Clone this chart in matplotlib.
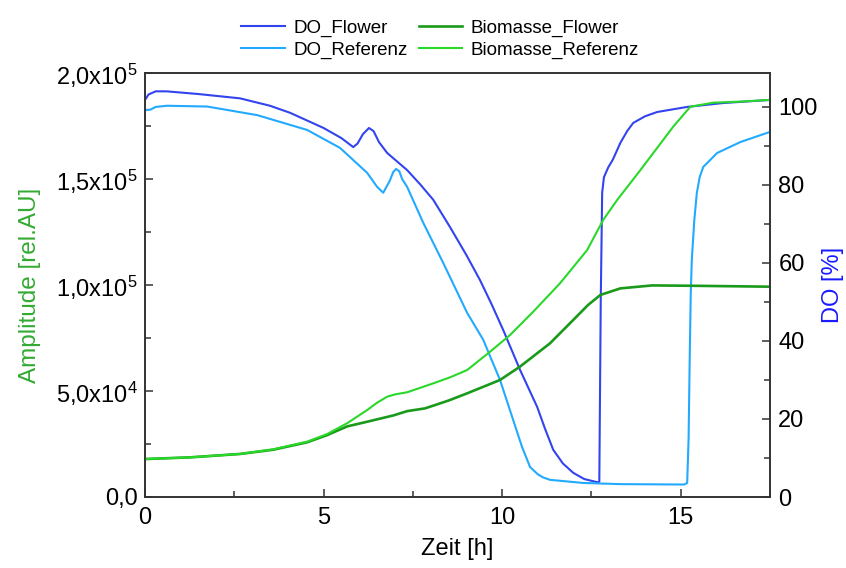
import matplotlib
matplotlib.use("Agg")
import matplotlib.pyplot as plt
from matplotlib.ticker import MultipleLocator, FuncFormatter

plt.rcParams["font.family"] = ["Liberation Sans", "DejaVu Sans"]
plt.rcParams["mathtext.fontset"] = "custom"
plt.rcParams["mathtext.rm"] = "Liberation Sans"
plt.rcParams["mathtext.it"] = "Liberation Sans"

# DO curves (right axis, %)
t_do_flower = [0.0, 0.1, 0.3, 0.6, 1.5, 2.66, 3.5, 4.06, 5.0, 5.5, 5.83, 5.95, 6.1,
               6.27, 6.4, 6.55, 6.78, 7.34, 7.7, 8.07, 8.54, 9.0, 9.38, 9.7, 10.03,
               10.5, 10.98, 11.2, 11.43, 11.7, 11.99, 12.3, 12.66, 12.72, 12.76,
               12.8, 12.85, 12.97, 13.1, 13.31, 13.5, 13.67, 14.0, 14.34, 15.18,
               16.19, 17.5]
do_flower = [101.8, 103.2, 104.0, 104.0, 103.3, 102.2, 100.3, 98.5, 94.6, 92.0, 89.7,
             90.6, 93.0, 94.6, 93.8, 91.0, 88.2, 83.8, 80.2, 76.2, 69.2, 62.0, 55.6,
             49.5, 42.8, 32.6, 23.1, 17.5, 12.1, 8.6, 6.2, 4.6, 3.8, 3.9, 50.0,
             78.0, 82.0, 84.5, 86.5, 90.8, 93.8, 95.9, 97.6, 98.7, 100.0,
             101.0, 101.8]

t_do_ref = [0.0, 0.15, 0.3, 0.62, 1.74, 3.14, 4.54, 5.46, 6.22, 6.5, 6.67, 6.85, 6.95,
            7.03, 7.12, 7.2, 7.34, 7.79, 8.35, 9.02, 9.47, 9.94, 10.31, 10.55, 10.78,
            11.0, 11.15, 11.34, 12.27, 13.31, 15.1, 15.18, 15.22, 15.25, 15.28, 15.31,
            15.38, 15.45, 15.53, 15.63, 16.02, 16.67, 17.5]
do_ref = [99.2, 99.3, 100.0, 100.3, 100.1, 97.9, 94.1, 89.5, 83.1, 79.5, 78.0, 81.0,
          83.3, 84.1, 83.5, 81.5, 79.5, 70.3, 60.0, 47.2, 40.3, 30.0, 19.7, 13.0, 7.7,
          5.8, 5.0, 4.4, 3.6, 3.3, 3.2, 3.6, 15.0, 35.0, 52.0, 60.8,
          71.0, 77.9, 82.0, 84.6, 88.2, 91.0, 93.6]

# Biomass curves (left axis, amplitude)
t_bio_flower = [0.0, 1.26, 2.66, 3.59, 4.54, 5.10, 5.66, 6.22, 6.96, 7.34, 7.84,
                8.5, 9.02, 9.94, 10.5, 11.34, 11.99, 12.4, 12.75, 13.31, 14.2,
                15.5, 17.5]
bio_flower = [17900, 18700, 20300, 22300, 25800, 29200, 33300, 35500, 38500, 40500,
              41800, 45500, 48900, 55200, 61500, 72500, 83500, 90500, 95300, 98400,
              99800, 99600, 99200]

t_bio_ref = [0.0, 1.26, 2.66, 3.59, 4.54, 5.10, 5.66, 6.22, 6.5, 6.78, 7.0, 7.34,
             8.07, 8.55, 9.02, 9.66, 10.22, 10.87, 11.62, 12.38, 12.83, 13.22,
             13.87, 14.79, 15.27, 15.91, 16.67, 17.5]
bio_ref = [17900, 18700, 20300, 22500, 26100, 29700, 34800, 41000, 44500, 47300,
           48400, 49400, 53600, 56500, 59900, 68500, 76400, 87400, 100800, 116500,
           130700, 140100, 154200, 174700, 184100, 186000, 186500, 187300]

c_do_flower = "#3344ee"
c_do_ref = "#22aaff"
c_bio_flower = "#1a9a1a"
c_bio_ref = "#2ad82a"


def amp_fmt(v, pos):
    if v == 0:
        return "0,0"
    exp = 0
    m = v
    while abs(m) >= 10:
        m /= 10.0
        exp += 1
    return ("%.1f" % m).replace(".", ",") + r"x10$^{%d}$" % exp


fig = plt.figure(figsize=(8.46, 5.68), dpi=100)
ax = fig.add_axes([0.1714, 0.125, 0.7388, 0.7465])
ax2 = ax.twinx()

l1, = ax2.plot(t_do_flower, do_flower, color=c_do_flower, lw=1.5, label="DO_Flower")
l2, = ax2.plot(t_do_ref, do_ref, color=c_do_ref, lw=1.5, label="DO_Referenz")
l3, = ax.plot(t_bio_flower, bio_flower, color=c_bio_flower, lw=1.9, label="Biomasse_Flower")
l4, = ax.plot(t_bio_ref, bio_ref, color=c_bio_ref, lw=1.5, label="Biomasse_Referenz")

ax.set_zorder(ax2.get_zorder() + 1)
ax.patch.set_visible(False)

ax.set_xlim(0, 17.5)
ax.set_ylim(0, 2.0e5)
ax2.set_ylim(0, 108.7)

ax.xaxis.set_major_locator(MultipleLocator(5))
ax.xaxis.set_minor_locator(MultipleLocator(2.5))
ax.yaxis.set_major_locator(MultipleLocator(5e4))
ax.yaxis.set_minor_locator(MultipleLocator(2.5e4))
ax.yaxis.set_major_formatter(FuncFormatter(amp_fmt))
ax2.yaxis.set_major_locator(MultipleLocator(20))
ax2.yaxis.set_minor_locator(MultipleLocator(10))

for a in (ax, ax2):
    a.tick_params(which="both", direction="in", top=False, labelsize=17,
                  color="#333333", width=1.1)
    a.tick_params(which="major", length=6)
    a.tick_params(which="minor", length=4)
    for s in a.spines.values():
        s.set_color("#333333")
        s.set_linewidth(1.2)
ax.tick_params(axis="y", right=False, pad=5)
ax2.tick_params(axis="y", left=False, pad=6)
ax.tick_params(axis="x", pad=7)

ax.set_xlabel("Zeit [h]", fontsize=17, labelpad=7)
ax.set_ylabel("Amplitude [rel.AU]", fontsize=17.5, color="#33aa33", labelpad=11)
ax2.set_ylabel("DO [%]", fontsize=17, color="#1a1aff", labelpad=3)

fig.legend(handles=[l1, l2, l3, l4], ncol=2, loc="center",
           bbox_to_anchor=(0.52, 0.931), frameon=False, fontsize=13.5,
           handlelength=2.3, handletextpad=0.45, columnspacing=0.6,
           labelspacing=0.25, borderaxespad=0)

fig.savefig("out.png", dpi=100)
